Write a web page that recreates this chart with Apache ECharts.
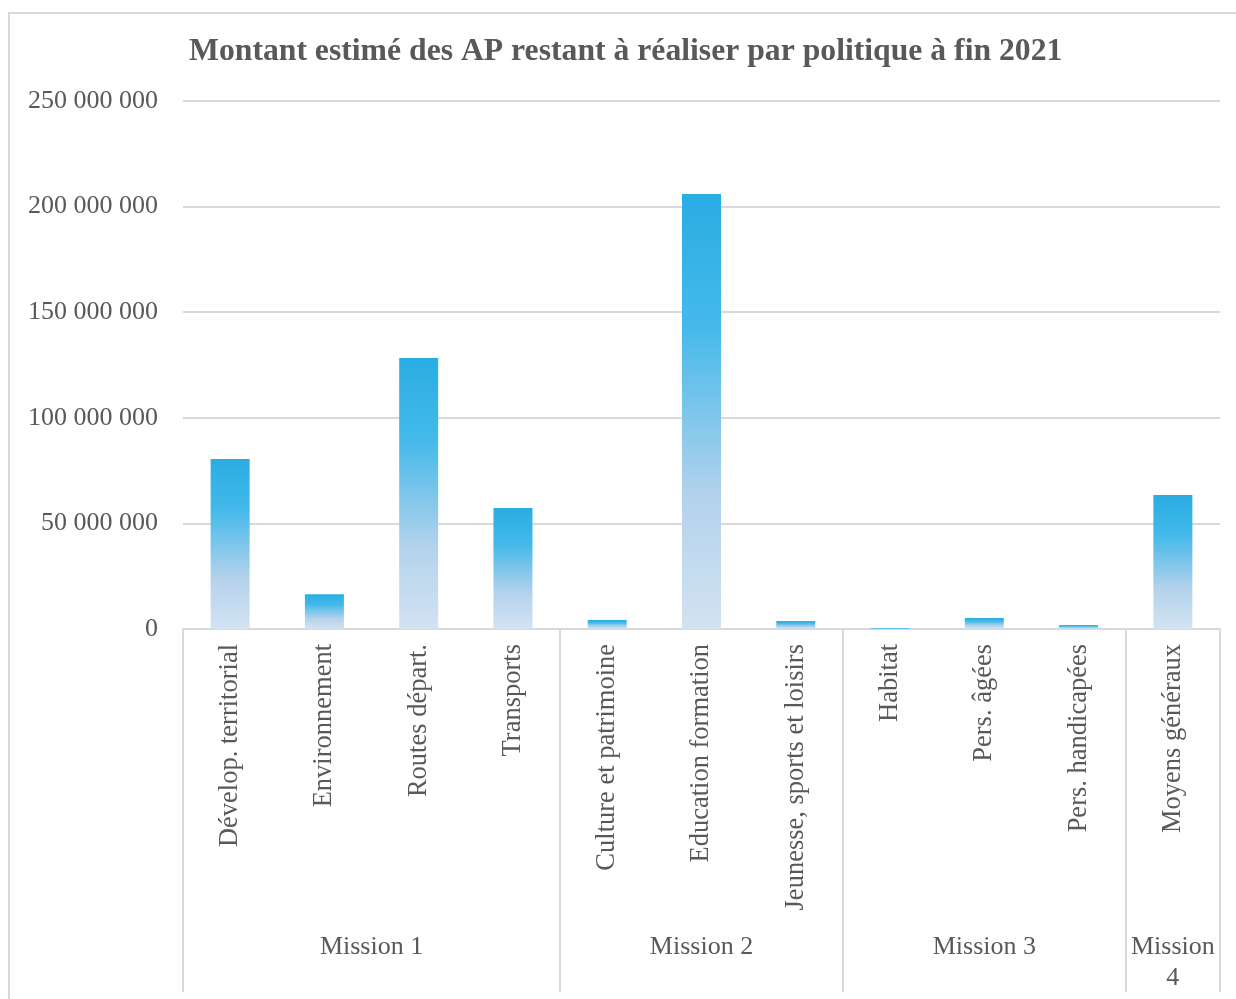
<!DOCTYPE html>
<html>
<head>
<meta charset="utf-8">
<script src="https://cdn.jsdelivr.net/npm/echarts@6/dist/echarts.min.js"></script>
<style>
  html, body { margin: 0; padding: 0; background: #fff; }
  #main { width: 1236px; height: 999px; }
</style>
</head>
<body>
<div id="main"></div>
<script>
// données
var politiques = ['Dévelop. territorial', 'Environnement', 'Routes départ.', 'Transports',
    'Culture et patrimoine', 'Education formation', 'Jeunesse, sports et loisirs',
    'Habitat', 'Pers. âgées', 'Pers. handicapées', 'Moyens généraux'];
var montants = [80500000, 16500000, 128300000, 57300000,
    4300000, 206000000, 3800000,
    300000, 5200000, 1900000, 63400000];
var missions = ['Mission 1', 'Mission 2', 'Mission 3', 'Mission\n4'];
var missionCentres = [2, 5.5, 8.5, 10.5];     // position des libellés (en catégories)
var missionBornes = [0, 4, 7, 10, 11];        // séparateurs entre missions

var gris = '#595959';
var police = '"Liberation Serif", "Times New Roman", serif';

function formatNombre(v) {
    return String(v).replace(/\B(?=(\d{3})+(?!\d))/g, ' ');
}

var myChart = echarts.init(document.getElementById('main'));

var option = {
    animation: false,
    textStyle: { fontFamily: police },
    title: {
        text: 'Montant estimé des AP restant à réaliser par politique à fin 2021',
        left: 184,
        top: 31,
        textStyle: {
            fontFamily: police,
            fontSize: 31.7,
            fontWeight: 'bold',
            color: gris
        }
    },
    // cadre du graphique
    graphic: [{
        type: 'rect',
        shape: { x: 9, y: 13, width: 1300, height: 1100 },
        style: { fill: 'none', stroke: '#d9d9d9', lineWidth: 2 },
        silent: true
    }],
    grid: {
        left: 183,
        right: 16,
        top: 101,
        bottom: 370
    },
    xAxis: [
        {
            type: 'category',
            data: politiques,
            axisLine: { lineStyle: { color: '#d9d9d9', width: 2 } },
            axisTick: { show: false },
            axisLabel: {
                rotate: 90,
                margin: 15,
                interval: 0,
                fontFamily: police,
                fontSize: 26.5,
                color: gris
            }
        },
        {
            type: 'value',
            position: 'bottom',
            min: 0,
            max: 11,
            axisLine: { show: false },
            splitLine: { show: false },
            axisTick: {
                show: true,
                customValues: missionBornes,
                length: 363,
                lineStyle: { color: '#d9d9d9', width: 2 }
            },
            axisLabel: {
                customValues: missionCentres,
                margin: 303,
                fontFamily: police,
                fontSize: 26,
                lineHeight: 31,
                color: gris,
                formatter: function (v) {
                    var i = missionCentres.indexOf(v);
                    return i >= 0 ? missions[i] : '';
                }
            }
        }
    ],
    yAxis: {
        type: 'value',
        min: 0,
        max: 250000000,
        interval: 50000000,
        axisLine: { show: false },
        axisTick: { show: false },
        splitLine: { lineStyle: { color: '#d9d9d9', width: 2 } },
        axisLabel: {
            margin: 25,
            fontFamily: police,
            fontSize: 26,
            color: gris,
            formatter: formatNombre
        }
    },
    series: [{
        type: 'bar',
        xAxisIndex: 0,
        yAxisIndex: 0,
        data: montants,
        barWidth: 39,
        itemStyle: {
            color: new echarts.graphic.LinearGradient(0, 0, 0, 1, [
                { offset: 0, color: '#29ADE3' },
                { offset: 0.3, color: '#44B9EA' },
                { offset: 0.7, color: '#B4D2EC' },
                { offset: 1, color: '#D2E3F2' }
            ])
        }
    }]
};

myChart.setOption(option);
</script>
</body>
</html>
